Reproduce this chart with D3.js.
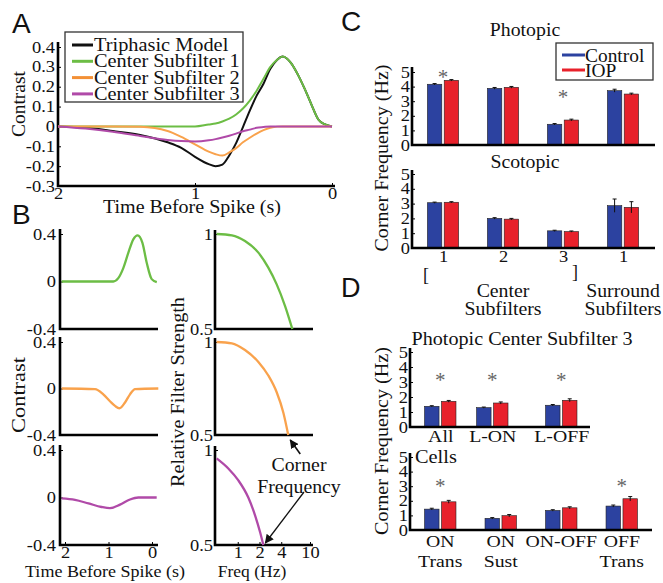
<!DOCTYPE html>
<html><head><meta charset="utf-8">
<script src="https://cdn.jsdelivr.net/npm/d3@7"></script>
<style>body{margin:0;background:#fff}svg{display:block}</style>
</head><body>
<svg id="fig" width="663" height="583"></svg>
<script>
// ===================== DATA =====================
// Panel A: time before spike (s) and filter values
const timeA = [2.0,1.8,1.6,1.4,1.2,1.1,1.0,0.9,0.85,0.8,0.75,0.7,0.65,0.6,0.55,0.5,0.45,0.4,0.36,0.3,0.25,0.2,0.15,0.1,0.05,0];
const triphasic = [0,-0.006,-0.023,-0.043,-0.08,-0.108,-0.153,-0.19,-0.2,-0.192,-0.146,-0.084,-0.003,0.08,0.155,0.215,0.29,0.336,0.352,0.32,0.262,0.19,0.11,0.035,0.01,0];
const centerSub1 = [0,0,0,0,0,0,0,0.01,0.015,0.025,0.039,0.06,0.09,0.13,0.18,0.24,0.3,0.336,0.352,0.32,0.262,0.19,0.11,0.035,0.01,0];
const centerSub2 = [0,0,0,-0.002,-0.023,-0.053,-0.09,-0.127,-0.14,-0.147,-0.131,-0.109,-0.08,-0.057,-0.036,-0.019,-0.007,-0.001,0,0,0,0,0,0,0,0];
const centerSub3 = [0,-0.011,-0.027,-0.048,-0.068,-0.074,-0.076,-0.07,-0.064,-0.056,-0.047,-0.036,-0.024,-0.016,-0.007,-0.003,0,0,0,0,0,0,0,0,0,0];
const legendA = ["Triphasic Model","Center Subfilter 1","Center Subfilter 2","Center Subfilter 3"];
const tickA_y = [-0.3,-0.2,-0.1,0,0.1,0.2,0.3,0.4];
const tickA_x = [2,1,0];

// Panel B left: temporal filters
const timeB1 = [2.076,0.89,0.775,0.66,0.545,0.43,0.33,0.22,0.12,0.007,-0.11];
const filtB1 = [0,0,0.028,0.113,0.241,0.355,0.389,0.326,0.156,0.02,-0.006];
const timeB2 = [2.076,1.31,1.12,0.966,0.85,0.75,0.62,0.506,0.39,-0.145];
const filtB2 = [0,-0.005,-0.05,-0.11,-0.15,-0.17,-0.12,-0.05,-0.005,0];
const timeB3 = [2.076,1.77,1.46,1.16,0.966,0.736,0.506,0.315,-0.108];
const filtB3 = [-0.008,-0.02,-0.05,-0.08,-0.09,-0.06,-0.017,0,0];
const tickBL_y = [-0.4,0,0.4];
// Panel B right: frequency responses
const freqB1 = [0.51,0.83,1.26,1.93,2.65,3.46,4.52,5.7];
const gainB1 = [1.0,0.993,0.963,0.902,0.823,0.735,0.621,0.5];
const freqB2 = [0.51,0.83,1.26,1.93,2.65,3.46,4.28,5.0];
const gainB2 = [1.0,0.993,0.957,0.893,0.82,0.73,0.62,0.5];
const freqB3 = [0.51,0.74,1.02,1.4,1.74,2.04,2.26];
const gainB3 = [0.956,0.903,0.84,0.75,0.655,0.567,0.5];
const tickBR_y = [0.5,1];
const tickBR_x = [1,2,4,10];

// Panel C
const subfilterLabels = ["1","2","3","1"];
const photopicControl = [4.16,3.88,1.42,3.72];
const photopicIOP     = [4.43,3.95,1.71,3.49];
const photopicControlErr = [0.05,0.06,0.05,0.1];
const photopicIOPErr     = [0.05,0.06,0.06,0.06];
const photopicStars = [[1,4.85],[3,3.5]];
const scotopicControl = [3.06,2.0,1.16,2.86];
const scotopicIOP     = [3.09,1.95,1.11,2.75];
const scotopicControlErr = [0.04,0.05,0.04,0.45];
const scotopicIOPErr     = [0.04,0.05,0.04,0.38];
const tickC_y = [0,1,2,3,4,5];

// Panel D
const dTopLabels = ["All","L-ON","L-OFF"];
const dTopPos = [1,1.86,3];
const dTopControl = [1.38,1.29,1.45];
const dTopIOP     = [1.71,1.6,1.78];
const dTopControlErr = [0.04,0.04,0.05];
const dTopIOPErr     = [0.06,0.07,0.1];
const dTopStar = 3.33;
const dBotLabels = [["ON","Trans"],["ON","Sust"],["ON-OFF"],["OFF","Trans"]];
const dBotPos = [1,2,3,4];
const dBotControl = [1.43,0.8,1.34,1.64];
const dBotIOP     = [1.93,0.98,1.52,2.14];
const dBotControlErr = [0.06,0.05,0.05,0.07];
const dBotIOPErr     = [0.1,0.08,0.07,0.15];
const dBotStars = [[1,3.25],[4,3.25]];

// ===================== STYLE =====================
const SERIF = "'Liberation Serif','Times New Roman',Times,serif";
const SANS = "'Liberation Sans',Arial,Helvetica,sans-serif";
const GREEN = "#6cbd45", ORANGE = "#f9a24c", PURPLE = "#b04aa8", BLACK = "#111";
const LEG_ORANGE = "#f39035";
const BLUE = "#2c42a0", RED = "#e8212b";
const AXW = 2.6;

const svg = d3.select("#fig");

function label(g, x, y, s, o = {}) {
  const size = o.size || 18, sx = o.sx || 1.1, rot = o.rot || 0;
  const t = g.append("text")
    .attr("text-anchor", o.anchor || "middle")
    .attr("font-family", o.font || SERIF).attr("font-size", size)
    .attr("fill", o.fill || "#111").text(s);
  if (o.width) {
    t.attr("transform", `translate(${x},${y}) rotate(${rot})`)
     .attr("textLength", o.width).attr("lengthAdjust", "spacingAndGlyphs");
  } else {
    t.attr("transform", `translate(${x},${y}) rotate(${rot}) scale(${sx},1)`);
  }
  return t;
}
function styleAxis(sel, size = 16, sx = 1.15) {
  sel.attr("font-family", SERIF).attr("font-size", size);
  sel.select(".domain").remove();
  sel.selectAll(".tick line").attr("stroke", "#000").attr("stroke-width", 1);
  sel.selectAll(".tick text").attr("fill", "#111").each(function () {
    const t = d3.select(this);
    const x = +t.attr("x") || 0;
    t.attr("x", 0).attr("transform", `translate(${x},0) scale(${sx},1)`);
  });
}
function axisFrame(g, x0, yTop, yBot, x1) {
  g.append("path").attr("d", `M${x0},${yTop}V${yBot}H${x1}`)
    .attr("fill", "none").attr("stroke", "#000").attr("stroke-width", AXW);
}
const fmt1 = d => d === 0 ? "0" : d.toFixed(1);
const fmtN = d => String(d);

// ===================== PANEL A =====================
const gA = svg.append("g");
const xA = d3.scaleLinear([2, 0], [58, 332]);
const yA = d3.scaleLinear([-0.3, 0.4], [186, 47]);
gA.append("g").attr("transform", "translate(58,0)")
  .call(d3.axisLeft(yA).tickValues(tickA_y).tickFormat(fmt1).tickSizeInner(-3).tickSizeOuter(0).tickPadding(3))
  .call(styleAxis);
gA.append("g").attr("transform", "translate(0,186)")
  .call(d3.axisBottom(xA).tickValues(tickA_x).tickFormat(fmtN).tickSizeInner(-3).tickSizeOuter(0).tickPadding(2))
  .call(styleAxis);
axisFrame(gA, 58, 42, 186, 335);
const lineA = d3.line().x((d, i) => xA(timeA[i])).y(d => yA(d)).curve(d3.curveMonotoneX);
[[triphasic, BLACK], [centerSub1, GREEN], [centerSub2, ORANGE], [centerSub3, PURPLE]].forEach(([vals, c]) => {
  gA.append("path").datum(vals).attr("d", lineA).attr("fill", "none").attr("stroke", c).attr("stroke-width", 2);
});
// legend A
gA.append("rect").attr("x", 65).attr("y", 32).attr("width", 178).attr("height", 70)
  .attr("fill", "#fff").attr("stroke", "#333").attr("stroke-width", 1.3);
const legCols = [BLACK, GREEN, LEG_ORANGE, PURPLE];
legendA.forEach((s, i) => {
  const y = 45 + i * 16.3;
  gA.append("line").attr("x1", 72).attr("x2", 93).attr("y1", y).attr("y2", y)
    .attr("stroke", legCols[i]).attr("stroke-width", 3);
  label(gA, 94, y + 6, s, { anchor: "start", size: 18.5, sx: 1.1 });
});
label(gA, 192, 213, "Time Before Spike (s)", { size: 18.5, width: 178 });
label(gA, 25, 104, "Contrast", { size: 18.5, rot: -90, width: 66 });
label(svg, 12, 33, "A", { font: SANS, size: 28, anchor: "start", sx: 1 });

// ===================== PANEL B LEFT =====================
const gB = svg.append("g");
const rows = [{ top: 234, bot: 329 }, { top: 342, bot: 435 }, { top: 450, bot: 545 }];
const xBL = d3.scaleLinear([2, 0], [65, 152]);
const bLeftData = [[timeB1, filtB1, GREEN], [timeB2, filtB2, ORANGE], [timeB3, filtB3, PURPLE]];
rows.forEach((r, k) => {
  const y = d3.scaleLinear([-0.4, 0.4], [r.bot, r.top]);
  gB.append("g").attr("transform", "translate(60,0)")
    .call(d3.axisLeft(y).tickValues(tickBL_y).tickFormat(fmt1).tickSizeInner(-3).tickSizeOuter(0).tickPadding(4))
    .call(styleAxis);
  if (k === 2) {
    gB.append("g").attr("transform", `translate(0,${r.bot})`)
      .call(d3.axisBottom(xBL).tickValues(tickA_x).tickFormat(fmtN).tickSizeInner(-3).tickSizeOuter(0).tickPadding(2))
      .call(styleAxis);
  }
  axisFrame(gB, 60, r.top - 5, r.bot, 158);
  const [ts, vs, c] = bLeftData[k];
  const ln = d3.line().x((d, i) => xBL(ts[i])).y(d => y(d)).curve(d3.curveMonotoneX);
  gB.append("path").datum(vs).attr("d", ln).attr("fill", "none").attr("stroke", c).attr("stroke-width", 2.3);
});
label(gB, 25, 395, "Contrast", { size: 18.5, rot: -90, width: 76 });
label(gB, 105, 577, "Time Before Spike (s)", { size: 17.5, width: 160 });
label(svg, 12, 224, "B", { font: SANS, size: 28, anchor: "start", sx: 1 });

// ===================== PANEL B RIGHT =====================
const xBR = d3.scaleLog([0.5, 10], [216, 310]);
const bRightData = [[freqB1, gainB1, GREEN], [freqB2, gainB2, ORANGE], [freqB3, gainB3, PURPLE]];
const yBR = [];
rows.forEach((r, k) => {
  const y = d3.scaleLinear([0.5, 1], [r.bot, r.top]);
  yBR.push(y);
  gB.append("g").attr("transform", "translate(215,0)")
    .call(d3.axisLeft(y).tickValues(tickBR_y).tickFormat(fmtN).tickSizeInner(-3).tickSizeOuter(0).tickPadding(2))
    .call(styleAxis);
  if (k === 2) {
    gB.append("g").attr("transform", `translate(0,${r.bot})`)
      .call(d3.axisBottom(xBR).tickValues(tickBR_x).tickFormat(fmtN).tickSizeInner(-3).tickSizeOuter(0).tickPadding(2))
      .call(styleAxis);
  }
  axisFrame(gB, 215, r.top - 4, r.bot, 313);
  const [fs, vs, c] = bRightData[k];
  const ln = d3.line().x((d, i) => xBR(fs[i])).y(d => y(d)).curve(d3.curveMonotoneX);
  gB.append("path").datum(vs).attr("d", ln).attr("fill", "none").attr("stroke", c).attr("stroke-width", 2.3);
});
label(gB, 184, 392, "Relative Filter Strength", { size: 18.5, rot: -90, width: 190 });
label(gB, 252, 577, "Freq (Hz)", { size: 17.5, sx: 1.0 });
// corner frequency annotation
const defs = svg.append("defs");
defs.append("marker").attr("id", "ah").attr("viewBox", "0 0 10 10").attr("refX", 9).attr("refY", 5)
  .attr("markerWidth", 9).attr("markerHeight", 9).attr("markerUnits", "userSpaceOnUse").attr("orient", "auto")
  .append("path").attr("d", "M0,0L10,5L0,10z").attr("fill", "#111");
const end2 = [xBR(freqB2[freqB2.length - 1]), yBR[1](0.5)];
const end3 = [xBR(freqB3[freqB3.length - 1]), yBR[2](0.5)];
gB.append("line").attr("x1", end2[0] + 12).attr("y1", end2[1] + 19).attr("x2", end2[0] + 2).attr("y2", end2[1] + 5)
  .attr("stroke", "#111").attr("stroke-width", 1.6).attr("marker-end", "url(#ah)");
gB.append("line").attr("x1", 304).attr("y1", 492).attr("x2", end3[0] + 2).attr("y2", end3[1] - 2)
  .attr("stroke", "#111").attr("stroke-width", 1.3).attr("marker-end", "url(#ah)");
label(gB, 299, 471, "Corner", { size: 18, sx: 1.1 });
label(gB, 299, 493, "Frequency", { size: 18, sx: 1.1 });

// ===================== BAR HELPERS =====================
const BAR_OFF = 0.14, BAR_W = 0.24;
function drawBars(g, x, y, pos, ctrl, iop, ctrlErr, iopErr) {
  const w = x(BAR_W) - x(0);
  const series = [[ctrl, ctrlErr, BLUE, -BAR_OFF], [iop, iopErr, RED, BAR_OFF]];
  series.forEach(([vals, errs, col, off]) => {
    g.selectAll(null).data(vals).join("rect")
      .attr("x", (d, i) => x(pos[i] + off) - w / 2).attr("width", w)
      .attr("y", d => y(d)).attr("height", d => y(0) - y(d))
      .attr("fill", col).attr("stroke", "#222").attr("stroke-width", 0.6);
    vals.forEach((d, i) => {
      const cx = x(pos[i] + off);
      g.append("line").attr("x1", cx).attr("x2", cx).attr("y1", y(d - errs[i])).attr("y2", y(d + errs[i]))
        .attr("stroke", "#111").attr("stroke-width", 1);
      g.append("line").attr("x1", cx - 2).attr("x2", cx + 2).attr("y1", y(d + errs[i])).attr("y2", y(d + errs[i]))
        .attr("stroke", "#111").attr("stroke-width", 1);
    });
  });
}
function star(g, x, y) {
  label(g, x, y + 10, "*", { size: 21, sx: 1, fill: "#666" });
}

// ===================== PANEL C =====================
const gC = svg.append("g");
const xC = d3.scaleLinear([0.5, 4.5], [413, 653]);
const posC = [1, 2, 3, 4];
const yCp = d3.scaleLinear([0, 5], [145, 72]);
const yCs = d3.scaleLinear([0, 5], [248, 174]);
gC.append("g").attr("transform", "translate(412,0)")
  .call(d3.axisLeft(yCp).tickValues(tickC_y).tickFormat(fmtN).tickSizeInner(-3).tickSizeOuter(0).tickPadding(2))
  .call(styleAxis);
drawBars(gC, xC, yCp, posC, photopicControl, photopicIOP, photopicControlErr, photopicIOPErr);
axisFrame(gC, 412, 67, 145, 655);
photopicStars.forEach(([p, v]) => star(gC, xC(p), yCp(v)));
label(gC, 525, 36, "Photopic", { size: 18, sx: 1.1 });
// legend C
gC.append("rect").attr("x", 556).attr("y", 43).attr("width", 97).attr("height", 37)
  .attr("fill", "#fff").attr("stroke", "#333").attr("stroke-width", 1.3);
[["Control", BLUE], ["IOP", RED]].forEach(([s, c], i) => {
  const y = 55 + i * 15;
  gC.append("line").attr("x1", 562).attr("x2", 585).attr("y1", y).attr("y2", y).attr("stroke", c).attr("stroke-width", 3);
  label(gC, 585, y + 7, s, { anchor: "start", size: 18.5, sx: 1.05 });
});
// scotopic
gC.append("g").attr("transform", "translate(412,0)")
  .call(d3.axisLeft(yCs).tickValues(tickC_y).tickFormat(fmtN).tickSizeInner(-3).tickSizeOuter(0).tickPadding(2))
  .call(styleAxis);
gC.append("g").attr("transform", "translate(0,248)")
  .call(d3.axisBottom(xC).tickValues(posC).tickFormat((d, i) => subfilterLabels[i]).tickSize(0).tickPadding(3))
  .call(styleAxis);
drawBars(gC, xC, yCs, posC, scotopicControl, scotopicIOP, scotopicControlErr, scotopicIOPErr);
axisFrame(gC, 412, 170, 248, 655);
label(gC, 525, 168, "Scotopic", { size: 18, sx: 1.1 });
label(gC, 426, 281, "[", { size: 18, sx: 1 });
label(gC, 575, 278, "]", { size: 18, sx: 1 });
label(gC, xC(2), 297, "Center", { size: 18, sx: 1.1 });
label(gC, xC(2), 315, "Subfilters", { size: 18, sx: 1.1 });
label(gC, xC(4), 297, "Surround", { size: 18, sx: 1.1 });
label(gC, xC(4), 315, "Subfilters", { size: 18, sx: 1.1 });
label(gC, 388, 158, "Corner Frequency (Hz)", { size: 18.5, rot: -90, width: 187 });
label(svg, 341, 31, "C", { font: SANS, size: 28, anchor: "start", sx: 1 });

// ===================== PANEL D =====================
const gD = svg.append("g");
const xD = d3.scaleLinear([0.5, 4.5], [410, 652]);
const yDt = d3.scaleLinear([0, 5], [427, 352]);
const yDb = d3.scaleLinear([0, 5], [530, 457]);
gD.append("g").attr("transform", "translate(410,0)")
  .call(d3.axisLeft(yDt).tickValues(tickC_y).tickFormat(fmtN).tickSizeInner(-3).tickSizeOuter(0).tickPadding(2))
  .call(styleAxis);
gD.append("g").attr("transform", "translate(0,427)")
  .call(d3.axisBottom(xD).tickValues(dTopPos).tickFormat((d, i) => dTopLabels[i]).tickSize(0).tickPadding(3))
  .call(styleAxis, 17.5, 1.13);
drawBars(gD, xD, yDt, dTopPos, dTopControl, dTopIOP, dTopControlErr, dTopIOPErr);
axisFrame(gD, 410, 348, 427, 590);
dTopPos.forEach(p => star(gD, xD(p), yDt(dTopStar)));
label(gD, 522, 345, "Photopic Center Subfilter 3", { size: 18.5, width: 221 });

gD.append("g").attr("transform", "translate(410,0)")
  .call(d3.axisLeft(yDb).tickValues(tickC_y).tickFormat(fmtN).tickSizeInner(-3).tickSizeOuter(0).tickPadding(2))
  .call(styleAxis);
drawBars(gD, xD, yDb, dBotPos, dBotControl, dBotIOP, dBotControlErr, dBotIOPErr);
axisFrame(gD, 410, 453, 530, 652);
dBotStars.forEach(([p, v]) => star(gD, xD(p), yDb(v)));
dBotLabels.forEach((lines, i) => {
  lines.forEach((s, j) => label(gD, xD(dBotPos[i]), 547 + j * 20, s, { size: 17.5, sx: 1.13 }));
});
label(gD, 415, 463, "Cells", { anchor: "start", size: 18.5, sx: 1.1 });
label(gD, 388, 441, "Corner Frequency (Hz)", { size: 18.5, rot: -90, width: 188 });
label(svg, 341, 297, "D", { font: SANS, size: 27, anchor: "start", sx: 1 });
</script>
</body></html>
